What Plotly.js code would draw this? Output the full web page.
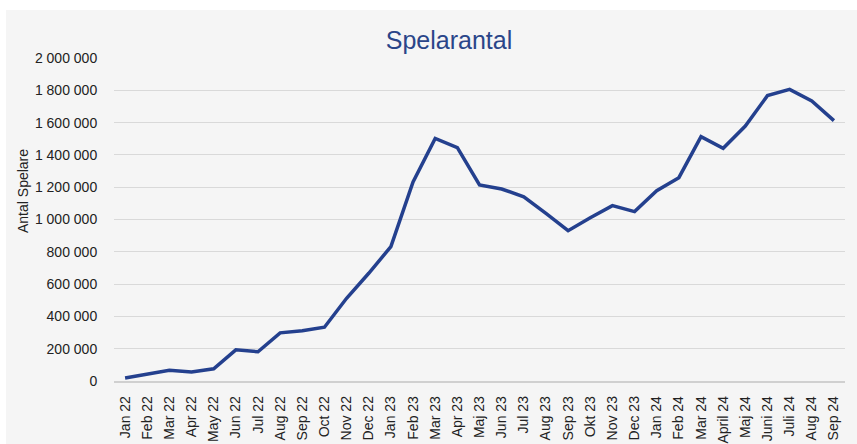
<!DOCTYPE html>
<html>
<head>
<meta charset="utf-8">
<script src="https://cdn.plot.ly/plotly-3.0.1.min.js"></script>
<style>
html,body{margin:0;padding:0;background:#ffffff;}
#chart{position:absolute;left:6px;top:10px;width:851px;height:434px;}
</style>
</head>
<body>
<div id="chart"></div>
<script>
const months = ["Jan 22","Feb 22","Mar 22","Apr 22","May 22","Jun 22","Jul 22","Aug 22","Sep 22","Oct 22","Nov 22","Dec 22",
  "Jan 23","Feb 23","Mar 23","Apr 23","Maj 23","Jun 23","Jul 23","Aug 23","Sep 23","Okt 23","Nov 23","Dec 23",
  "Jan 24","Feb 24","Mar 24","April 24","Maj 24","Juni 24","Juli 24","Aug 24","Sep 24"];
const players = [19000, 43000, 66000, 56000, 76000, 193000, 181000, 298000, 311000, 333000, 512000, 667000,
  832000, 1232000, 1502000, 1445000, 1214000, 1189000, 1141000, 1038000, 931000, 1011000, 1086000, 1049000,
  1178000, 1259000, 1513000, 1441000, 1579000, 1767000, 1806000, 1734000, 1612000];
const yTicks = [0,200000,400000,600000,800000,1000000,1200000,1400000,1600000,1800000,2000000];
const yTitle = 'Antal Spelare';
const chartTitle = 'Spelarantal';

const font = "Liberation Sans, Arial, sans-serif";
Plotly.newPlot('chart', [{
  x: months, y: players, type: 'scatter', mode: 'lines',
  line: {color: '#24408e', width: 3.5}, hoverinfo: 'x+y'
}], {
  width: 851, height: 434,
  paper_bgcolor: '#f5f5f5', plot_bgcolor: '#f5f5f5',
  margin: {l: 108, r: 12, t: 48, b: 63},
  separators: ", ",
  showlegend: false,
  title: {text: chartTitle, font: {family: font, size: 25, color: '#2a4589'},
          x: 443/851, xanchor: 'center', xref: 'container', y: 1 - 30/434, yanchor: 'middle', yref: 'container'},
  xaxis: {type: 'category', range: [-0.5, months.length - 0.5], tickangle: -90,
          tickfont: {family: font, size: 14, color: '#222'},
          showgrid: false, showline: true, linecolor: '#d0d0d0', linewidth: 1.5,
          ticks: 'outside', ticklen: 8, tickcolor: 'rgba(0,0,0,0)', zeroline: false, fixedrange: true},
  yaxis: {range: [0, 2000000], tickvals: yTicks, tickformat: ',d',
          tickfont: {family: font, size: 14, color: '#222'},
          gridcolor: '#d9d9d9', gridwidth: 1, zeroline: false, showline: false,
          ticks: 'outside', ticklen: 13, tickcolor: 'rgba(0,0,0,0)', fixedrange: true},
  annotations: [{text: yTitle, textangle: -90, xref: 'paper', yref: 'paper',
                 x: (23 - 114) / 731, y: (381 - 191) / 323, xanchor: 'center', yanchor: 'middle',
                 showarrow: false, font: {family: font, size: 14, color: '#222'}}]
}, {displayModeBar: false, staticPlot: true});
</script>
</body>
</html>
